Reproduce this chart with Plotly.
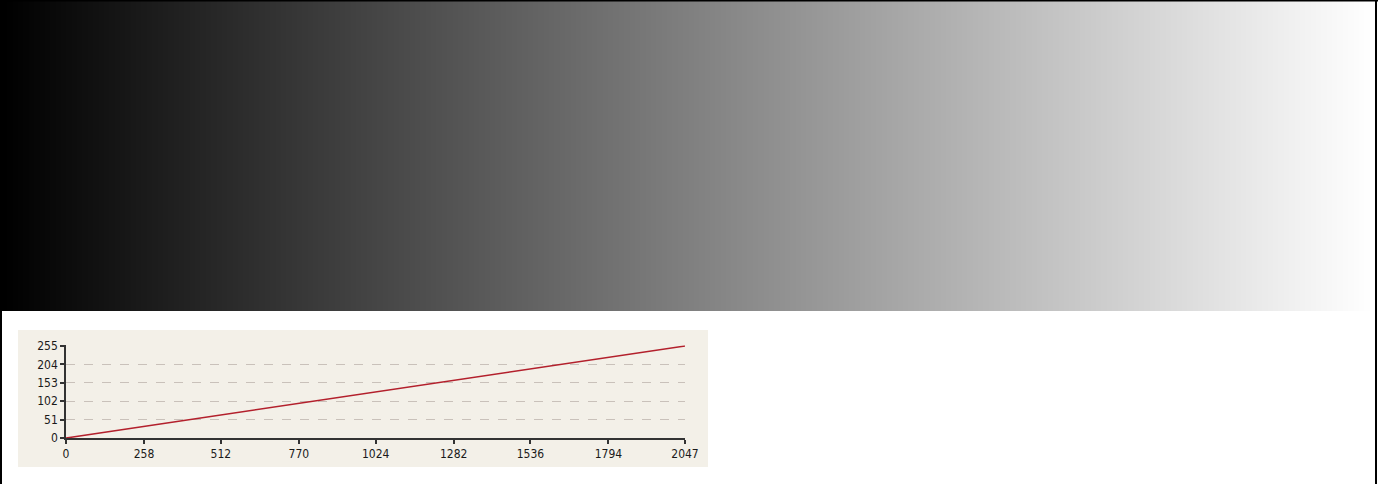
import plotly.graph_objects as go

W, H = 1378, 484

# Data
gray_levels = list(range(256))                     # 8-bit gray ramp shown in the top strip
lut_input = [0, 2047]                              # curve endpoints (input code values)
lut_output = [0, 255]                              # curve endpoints (output gray levels)
x_tick_vals = [0, 258, 512, 770, 1024, 1282, 1536, 1794, 2047]
x_tick_text = ["0", "258", "512", "770", "1024", "1282", "1536", "1794", "2047"]
y_tick_vals = [0, 51, 102, 153, 204, 255]
y_tick_text = ["0", "51", "102", "153", "204", "255"]


def px(x):
    return x / W


def py(y):
    return 1 - y / H


# y-axis: 0 at pixel 438, 255 at pixel 346; a little headroom so the 255 gridline is drawn
Y_TOP = 257.0
y_top_px = 438 - (438 - 346) * Y_TOP / 255

fig = go.Figure()

# Gradient strip
fig.add_trace(go.Heatmap(
    z=[gray_levels], x=gray_levels, y=[0],
    colorscale=[[0, "#000000"], [1, "#ffffff"]],
    zmin=0, zmax=255, showscale=False, hoverinfo="skip",
    xaxis="x", yaxis="y",
))

# LUT curve
fig.add_trace(go.Scatter(
    x=lut_input, y=lut_output, mode="lines",
    line=dict(color="#b3202c", width=1.6),
    xaxis="x2", yaxis="y2", showlegend=False, hoverinfo="skip",
))

tick_font = dict(family="Liberation Sans Narrow, DejaVu Sans Condensed, Liberation Sans, sans-serif",
                 size=12, color="#1a1a1a")

fig.update_layout(
    width=W, height=H,
    margin=dict(l=0, r=0, t=0, b=0, pad=0, autoexpand=False),
    paper_bgcolor="#ffffff",
    plot_bgcolor="rgba(0,0,0,0)",
    showlegend=False,
    xaxis=dict(domain=[px(2), px(1375)], range=[-0.5, 255.5], visible=False,
               fixedrange=True, automargin=False),
    yaxis=dict(domain=[py(311), py(0)], range=[-0.5, 0.5], visible=False,
               fixedrange=True, automargin=False),
    xaxis2=dict(
        domain=[px(66), px(685)], anchor="y2", range=[0, 2047],
        tickmode="array", tickvals=x_tick_vals, ticktext=x_tick_text,
        showgrid=False, zeroline=False, automargin=False,
        showline=True, linecolor="#333333", linewidth=1.5,
        ticks="outside", ticklen=4, tickcolor="#333333", tickwidth=1.5,
        tickfont=tick_font, fixedrange=True,
    ),
    yaxis2=dict(
        domain=[py(438), py(y_top_px)], anchor="x2", range=[0, Y_TOP],
        tickmode="array", tickvals=y_tick_vals, ticktext=y_tick_text,
        showgrid=True, gridcolor="#c9c1ba", griddash="dash", gridwidth=1,
        zeroline=False, automargin=False,
        showline=True, linecolor="#333333", linewidth=1.5,
        ticks="outside", ticklen=4, tickcolor="#333333", tickwidth=1.5,
        tickfont=tick_font, ticklabelstandoff=0, fixedrange=True,
    ),
    shapes=[
        # beige chart panel
        dict(type="rect", xref="paper", yref="paper", layer="below",
             x0=px(18), x1=px(708), y0=py(467), y1=py(330),
             fillcolor="#f3f0e8", line=dict(width=0)),
        # outer frame
        dict(type="line", xref="paper", yref="paper", x0=px(1), x1=px(1), y0=0, y1=1,
             line=dict(color="#000000", width=2)),
        dict(type="line", xref="paper", yref="paper", x0=px(1376), x1=px(1376), y0=0, y1=1,
             line=dict(color="#000000", width=2)),
        dict(type="line", xref="paper", yref="paper", x0=0, x1=1, y0=py(0.5), y1=py(0.5),
             line=dict(color="#000000", width=2)),
    ],
)

post = """
document.documentElement.style.margin='0';
document.documentElement.style.overflow='hidden';
document.body.style.margin='0';
document.body.style.padding='0';
document.body.style.overflow='hidden';
"""

fig.write_html("out.html", config={"displayModeBar": False}, post_script=post)
